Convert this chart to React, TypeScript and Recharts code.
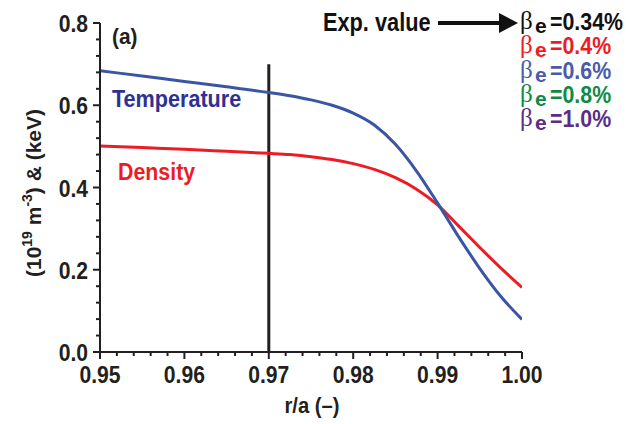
import React from "react";
import { LineChart, Line, XAxis, YAxis, ReferenceLine } from "recharts";

const radius = [0.95, 0.955, 0.96, 0.965, 0.97, 0.9725, 0.975, 0.9775, 0.98, 0.9825, 0.985, 0.9875, 0.99, 0.9925, 0.995, 0.9975, 1.0];
const temperature = [0.684, 0.671, 0.658, 0.645, 0.631, 0.623, 0.613, 0.6, 0.581, 0.552, 0.505, 0.44, 0.362, 0.28, 0.203, 0.135, 0.079];
const density = [0.501, 0.497, 0.493, 0.488, 0.483, 0.48, 0.475, 0.468, 0.458, 0.444, 0.424, 0.396, 0.358, 0.306, 0.254, 0.204, 0.157];

const xMajorTicks = [0.95, 0.96, 0.97, 0.98, 0.99, 1.0];
const yMajorTicks = [0.0, 0.2, 0.4, 0.6, 0.8];
const xMinorStep = 0.002;
const yMinorStep = 0.04;
const expLineX = 0.97;
const expLineTop = 0.7;

const betaLabels = ["=0.34%", "=0.4%", "=0.6%", "=0.8%", "=1.0%"];
const betaColors = ["#111111", "#ED1C24", "#4A5BAA", "#0E8A45", "#5B2D86"];

const data = radius.map((r, i) => ({ r, temperature: temperature[i], density: density[i] }));

const xTicks: number[] = [];
for (let i = 0; i <= 25; i++) xTicks.push(+(0.95 + i * xMinorStep).toFixed(4));
const yTicks: number[] = [];
for (let i = 0; i <= 20; i++) yTicks.push(+(i * yMinorStep).toFixed(4));

const FONT = '"Liberation Sans", Arial, sans-serif';
const INK = "#231F20";

const isMajor = (v: number, majors: number[]) => majors.some((m) => Math.abs(m - v) < 1e-7);

const NText = ({ x, y, size, fill, anchor = "start", sx = 0.88, family = FONT, weight = "bold", children }: any) => (
  <text
    transform={`translate(${x},${y}) scale(${sx},1)`}
    textAnchor={anchor}
    fontFamily={family}
    fontWeight={weight}
    fontSize={size}
    fill={fill}
  >
    {children}
  </text>
);

const XTick = (props: any) => {
  const { x, y, payload } = props;
  const v = payload.value;
  const major = isMajor(v, xMajorTicks);
  return (
    <g>
      <line x1={x} x2={x} y1={y} y2={y + (major ? 7 : 4)} stroke={INK} strokeWidth={2} />
      {major && (
        <NText x={x} y={y + 31} anchor="middle" size={24} fill={INK}>
          {v.toFixed(2)}
        </NText>
      )}
    </g>
  );
};

const YTick = (props: any) => {
  const { x, y, payload } = props;
  const v = payload.value;
  const major = isMajor(v, yMajorTicks);
  return (
    <g>
      <line x1={x - (major ? 7 : 4)} x2={x} y1={y} y2={y} stroke={INK} strokeWidth={2} />
      {major && (
        <NText x={x - 12} y={y + 9} anchor="end" size={24} fill={INK}>
          {v.toFixed(1)}
        </NText>
      )}
    </g>
  );
};

const YLabel = () => (
  <text
    transform="translate(41,193) rotate(-90)"
    textAnchor="middle"
    fontFamily={FONT}
    fontWeight="bold"
    fontSize={21}
    fill={INK}
  >
    <tspan>(10</tspan>
    <tspan fontSize={14} dy={-9}>19</tspan>
    <tspan dy={9}> m</tspan>
    <tspan fontSize={14} dy={-9}>-3</tspan>
    <tspan dy={9}>) &amp; (keV)</tspan>
  </text>
);

export default function App() {
  return (
    <div style={{ position: "absolute", left: 0, top: 0, width: 631, height: 424, background: "#fff" }}>
      <LineChart width={631} height={424} data={data} margin={{ top: 23, right: 109, bottom: 12, left: 0 }}>
        <XAxis
          dataKey="r"
          type="number"
          domain={[0.95, 1.0]}
          ticks={xTicks}
          interval={0}
          allowDataOverflow
          height={60}
          tickSize={0}
          tickMargin={0}
          tickLine={false}
          axisLine={{ stroke: INK, strokeWidth: 2 }}
          tick={<XTick />}
        />
        <YAxis
          type="number"
          domain={[0, 0.8]}
          ticks={yTicks}
          interval={0}
          allowDataOverflow
          width={100}
          tickSize={0}
          tickMargin={0}
          tickLine={false}
          axisLine={{ stroke: INK, strokeWidth: 2 }}
          tick={<YTick />}
        />
        <ReferenceLine
          segment={[
            { x: expLineX, y: 0 },
            { x: expLineX, y: expLineTop },
          ]}
          stroke={INK}
          strokeWidth={3}
        />
        <Line type="monotone" dataKey="density" stroke="#ED1C24" strokeWidth={3} dot={false} isAnimationActive={false} />
        <Line type="monotone" dataKey="temperature" stroke="#3A55A5" strokeWidth={3} dot={false} isAnimationActive={false} />
      </LineChart>
      <svg width={631} height={424} style={{ position: "absolute", left: 0, top: 0, pointerEvents: "none" }}>
        <YLabel />
        <NText x={312} y={413} anchor="middle" size={22} sx={0.92} fill={INK}>
          {"r/a (\u2013)"}
        </NText>
        <NText x={112} y={44} size={22} sx={0.95} fill={INK}>(a)</NText>
        <NText x={112} y={107} size={24} sx={0.9} fill="#2E3192">Temperature</NText>
        <NText x={118} y={180} size={24} sx={0.89} fill="#ED1C24">Density</NText>
        <NText x={323} y={31} size={25} sx={0.87} fill="#111">Exp. value</NText>
        <line x1={438} x2={503} y1={23} y2={23} stroke="#111" strokeWidth={4} />
        <polygon points="499,13 518,23 499,33" fill="#111" />
        {betaLabels.map((lbl, i) => (
          <g key={lbl}>
            <text x={520} y={29 + i * 24.3} fontFamily='"Liberation Serif", serif' fontSize={25} fill={betaColors[i]}>
              {"\u03B2"}
            </text>
            <text x={535} y={33 + i * 24.3} fontFamily={FONT} fontWeight="bold" fontSize={21} fill={betaColors[i]}>
              e
            </text>
            <NText x={550} y={30 + i * 24.3} size={24} sx={0.89} fill={betaColors[i]}>
              {lbl}
            </NText>
          </g>
        ))}
      </svg>
    </div>
  );
}
